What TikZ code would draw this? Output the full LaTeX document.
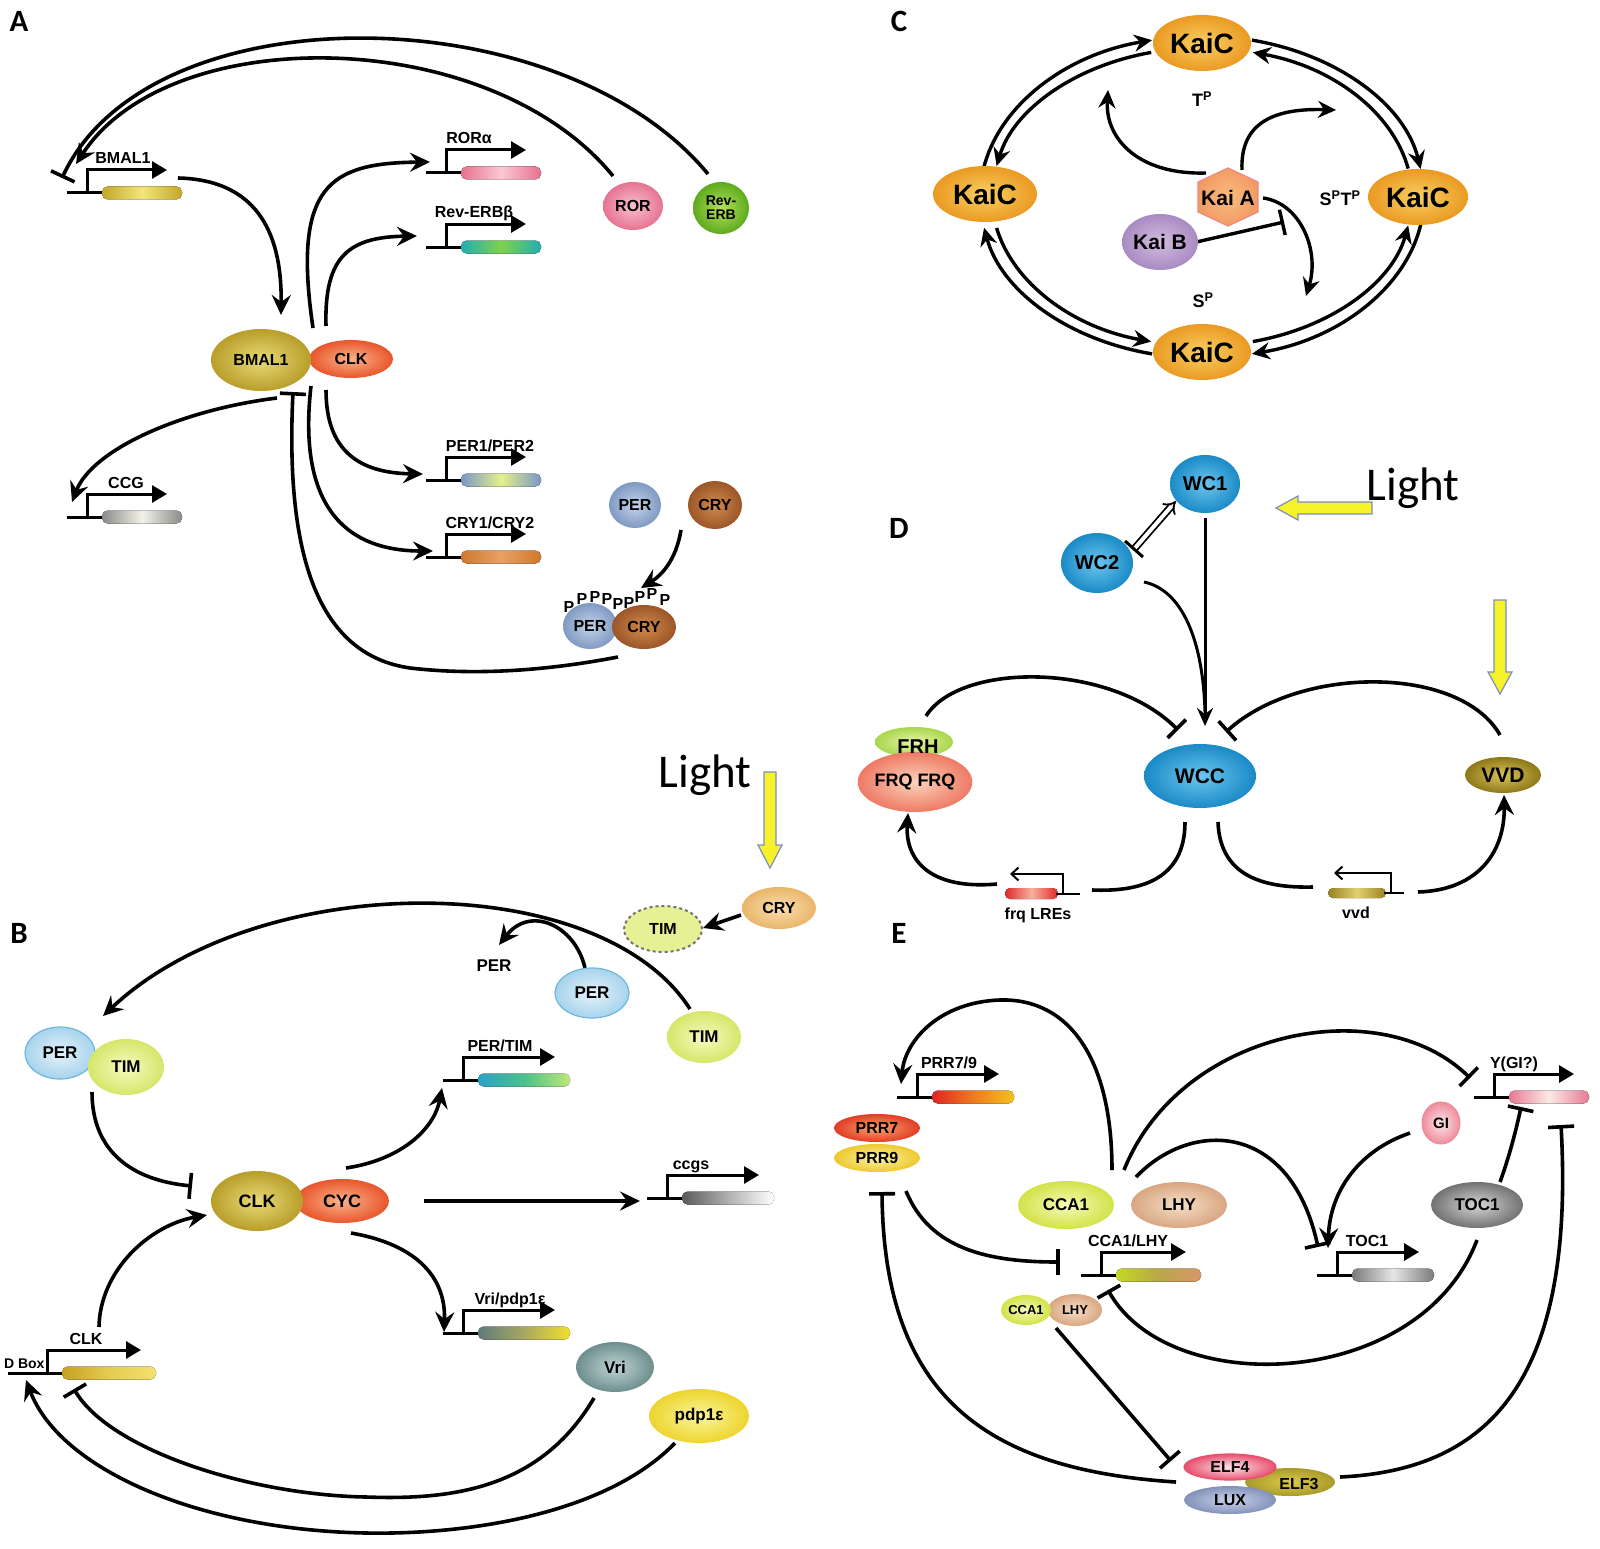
\documentclass[tikz,border=0pt]{standalone}
\usepackage{fontspec}
\setmainfont{Liberation Sans}
\newfontfamily\lightfont{Carlito}
\usetikzlibrary{arrows.meta,shapes.geometric}
\pgfdeclarelayer{back}
\pgfdeclarelayer{bg}
\pgfsetlayers{back,bg,main}
\newcommand\fz[1]{\fontsize{#1}{#1}\selectfont\bfseries}
% node colours
\definecolor{olI}{HTML}{E8DA78}\definecolor{olO}{HTML}{B89E2A}
\definecolor{rdI}{HTML}{F9B48A}\definecolor{rdO}{HTML}{E9552C}
\definecolor{pkI}{HTML}{F8C0CE}\definecolor{pkO}{HTML}{E67392}
\definecolor{grI}{HTML}{B4E25A}\definecolor{grO}{HTML}{5DAA1E}
\definecolor{buI}{HTML}{C4D4EA}\definecolor{buO}{HTML}{7F99C2}
\definecolor{brI}{HTML}{D08A4C}\definecolor{brO}{HTML}{9C5628}
\definecolor{kcI}{HTML}{F9CF63}\definecolor{kcO}{HTML}{EA9A22}
\definecolor{kaI}{HTML}{F8BE80}\definecolor{kaO}{HTML}{F29A64}\definecolor{kaD}{HTML}{EE8A80}
\definecolor{kbI}{HTML}{D2BCDE}\definecolor{kbO}{HTML}{A98BC2}
\definecolor{wcI}{HTML}{6CC6EE}\definecolor{wcO}{HTML}{1A8AC6}
\definecolor{fqI}{HTML}{FBD3BC}\definecolor{fqO}{HTML}{EE7A64}
\definecolor{fhI}{HTML}{EAF5A8}\definecolor{fhO}{HTML}{A9D64C}
\definecolor{vvI}{HTML}{D8C45A}\definecolor{vvO}{HTML}{8E7818}
\definecolor{lbI}{HTML}{E6F3FA}\definecolor{lbO}{HTML}{A7D3EC}\definecolor{lbD}{HTML}{6DB8DC}
\definecolor{ygI}{HTML}{F6FAC0}\definecolor{ygO}{HTML}{D6E66A}
\definecolor{orI}{HTML}{FADEAE}\definecolor{orO}{HTML}{E9B66A}
\definecolor{vrI}{HTML}{C0D4D4}\definecolor{vrO}{HTML}{6E8E8E}
\definecolor{ydI}{HTML}{FAF59C}\definecolor{ydO}{HTML}{EDD52E}
\definecolor{p7I}{HTML}{F9A66A}\definecolor{p7O}{HTML}{E03C26}
\definecolor{p9I}{HTML}{FAF2A4}\definecolor{p9O}{HTML}{EEC82E}
\definecolor{caI}{HTML}{F4FBB8}\definecolor{caO}{HTML}{D2E248}
\definecolor{lhI}{HTML}{F5DFC6}\definecolor{lhO}{HTML}{D9A682}
\definecolor{toI}{HTML}{D6D6D6}\definecolor{toO}{HTML}{727272}
\definecolor{giI}{HTML}{FDE6EA}\definecolor{giO}{HTML}{EE8C9C}
\definecolor{e4I}{HTML}{FCE6EC}\definecolor{e4O}{HTML}{E8506E}
\definecolor{e3I}{HTML}{DCCB4E}\definecolor{e3O}{HTML}{A89A2A}
\definecolor{luI}{HTML}{CBD3EA}\definecolor{luO}{HTML}{8392BA}
\definecolor{lyel}{HTML}{F6F22A}\definecolor{lblu}{HTML}{7E8EC2}
% gene bar colours
\definecolor{gOlA}{HTML}{C4A628}\definecolor{gOlB}{HTML}{F2E57A}
\definecolor{gPkA}{HTML}{E8708E}\definecolor{gPkB}{HTML}{FAC8D4}
\definecolor{gTeA}{HTML}{22AEB4}\definecolor{gGrB}{HTML}{7ED24A}
\definecolor{gGyA}{HTML}{8A8A8A}\definecolor{gGyB}{HTML}{F2F2E8}
\definecolor{gBuA}{HTML}{7A96C8}\definecolor{gBuB}{HTML}{E6F08A}
\definecolor{gBrA}{HTML}{D0782E}\definecolor{gBrB}{HTML}{E8A064}
\definecolor{gPtA}{HTML}{2AA2C8}\definecolor{gPtB}{HTML}{BEE878}\definecolor{gPtC}{HTML}{4CC08A}
\definecolor{gCcA}{HTML}{5A5A5A}\definecolor{gCcC}{HTML}{B0B0B0}
\definecolor{gVrA}{HTML}{5E7A7A}\definecolor{gVrB}{HTML}{F2E02A}\definecolor{gVrC}{HTML}{A8A860}
\definecolor{gClA}{HTML}{C8A020}\definecolor{gClB}{HTML}{F4E070}\definecolor{gClC}{HTML}{E4CC50}
\definecolor{gPrA}{HTML}{E02424}\definecolor{gPrB}{HTML}{F2C21E}\definecolor{gPrC}{HTML}{F07A1E}
\definecolor{gCaA}{HTML}{C4D824}\definecolor{gCaB}{HTML}{D8956A}\definecolor{gCaC}{HTML}{B8A848}
\definecolor{gToA}{HTML}{7A7A7A}\definecolor{gToC}{HTML}{E6E6E6}
\definecolor{gYA}{HTML}{E67A92}\definecolor{gYC}{HTML}{FCEAE4}
\definecolor{gFqA}{HTML}{E02828}\definecolor{gFqC}{HTML}{F8B0A0}
\definecolor{gVvA}{HTML}{9A8220}\definecolor{gVvC}{HTML}{E0D070}

\tikzset{
  ln/.style={line width=3.6pt},
  ar/.style={ln,-{Stealth[length=20pt,width=19pt,inset=7pt]}},
  ih/.style={ln,-{Bar[width=26pt]}},
  ka/.style={line width=3.4pt,-{Stealth[length=18pt,width=17pt,inset=6pt]}},
  gl/.style={line width=3pt},
  ball/.style n args={4}{ellipse,minimum width=#1pt,minimum height=#2pt,inner sep=0pt,inner color=#3,outer color=#4},
  lbl/.style={font=\fz{16}},
  panel/.style={font=\lightfont\bfseries\fontsize{31}{31}\selectfont},
  lightarrow/.style={fill=lyel,draw=lblu,line width=1.2pt}
}
% promoter + gene: px, py, length, label, label dx, name, left, right, middle colour
\newcommand\gene[9]{%
  \coordinate (#6) at (#1,#2);
  \draw[gl] (#1-20,#2) -- (#1+16,#2);
  \fill[left color=#7,right color=#8,middle color=#9,rounded corners=5.5pt] (#1+15,#2-6.5) rectangle (#1+15+#3,#2+6.5);
  \draw[gl,-{Triangle[length=15pt,width=17pt]}] (#1,#2+1.5) -- (#1,#2-23) -- (#1+#3,#2-23);
  \node[lbl,anchor=base] (#6l) at (#1+#5,#2-29) {#4};
}

\begin{document}
\begin{tikzpicture}[x=1pt,y=-1pt]
\useasboundingbox (0,0) rectangle (1600,1549);
\begin{pgfonlayer}{back}
\fill[white] (0,0) rectangle (1600,1549);
\end{pgfonlayer}

% ================= Panel letters
\node[panel] (lA) at (19,21) {A};
\node[panel] (lB) at (19,933) {B};
\node[panel] (lC) at (899,21) {C};
\node[panel] (lD) at (899,528) {D};
\node[panel] (lE) at (899,933) {E};

% ================= Panel A
\node[ball={84}{38}{rdI}{rdO},font=\fz{16}] (clkA) at (351,359) {CLK};
\node[ball={100}{62}{olI}{olO},font=\fz{16}] (bmal) at (261,360) {BMAL1};
\node[ball={60}{48}{pkI}{pkO},font=\fz{16}] (ror) at (633,206) {ROR};
\node[ball={56}{52}{grI}{grO},font=\fz{14},align=center] (reverb) at (721,208) {Rev-\\ERB};
\node[ball={52}{46}{buI}{buO},font=\fz{16}] (perA) at (635,505) {PER};
\node[ball={54}{48}{brI}{brO},font=\fz{16}] (cryA) at (715,505) {CRY};
\node[ball={54}{46}{buI}{buO},font=\fz{16}] (perC) at (590,626) {PER};
\node[ball={64}{44}{brI}{brO},font=\fz{16}] (cryC) at (644,627) {CRY};
\foreach \x/\y [count=\i] in {569/607,582/599,595/597,607/599,618/604,629/603,640/597,652/594,665/600}
  \node[font=\fz{16}] (pp\i) at (\x,\y) {P};

\gene{87}{193}{80}{BMAL1}{36}{gBMAL}{gOlA}{gOlA}{gOlB}
\gene{446}{173}{80}{RORα}{23}{gROR}{gPkA}{gPkA}{gPkB}
\gene{446}{247}{80}{Rev-ERBβ}{28}{gREV}{gTeA}{gTeA}{gGrB}
\gene{87}{517}{80}{CCG}{39}{gCCG}{gGyA}{gGyA}{gGyB}
\gene{446}{480}{80}{PER1/PER2}{44}{gPER}{gBuA}{gBuA}{gBuB}
\gene{446}{557}{80}{CRY1/CRY2}{44}{gCRY}{gBrA}{gBrA}{gBrB}

\begin{pgfonlayer}{bg}
\draw[ih] (708,174) .. controls (560,-5) and (150,-10) .. (62,178);
\draw[ar] (613,176) .. controls (490,25) and (170,20) .. (76,164);
\draw[ar] (178,178) .. controls (262,180) and (282,240) .. (281,315);
\draw[ar] (313,328) .. controls (292,185) and (330,163) .. (430,162);
\draw[ar] (326,326) .. controls (324,255) and (350,237) .. (417,236);
\draw[ar] (277,398) .. controls (180,410) and (92,450) .. (72,502);
\draw[ar] (326,390) .. controls (326,450) and (358,473) .. (423,474);
\draw[ar] (311,386) .. controls (298,500) and (340,551) .. (433,551);
\draw[ih] (618,657) .. controls (540,672) and (470,675) .. (410,668) .. controls (320,655) and (285,560) .. (293,392);
\draw[ar] (681,530) .. controls (676,560) and (662,575) .. (641,588);
\end{pgfonlayer}

% ================= Panel C
\coordinate (kc) at (1202,197);
\node[ball={98}{56}{kcI}{kcO},font=\fz{28}] (kt) at (1202,43) {KaiC};
\node[ball={104}{56}{kcI}{kcO},font=\fz{28}] (kl) at (985,194) {KaiC};
\node[ball={100}{56}{kcI}{kcO},font=\fz{28}] (kr) at (1418,197) {KaiC};
\node[ball={98}{56}{kcI}{kcO},font=\fz{28}] (kb) at (1202,352) {KaiC};
\path[draw=kaD,line width=1.2pt,inner color=kaI,outer color=kaO] (1228,168) -- (1258,182) -- (1258,212) -- (1228,226) -- (1198,212) -- (1198,182) -- cycle;
\node[font=\fz{21}] (kaia) at (1228,198) {Kai A};
\node[ball={62}{56}{kbI}{kbO},font=\fz{21}] (kaib) at (1160,242) {Kai B};
\node[font=\fz{18}] (tp) at (1202,99) {T\textsuperscript{P}};
\node[font=\fz{18}] (stp) at (1340,198) {S\textsuperscript{P}T\textsuperscript{P}};
\node[font=\fz{18}] (sp) at (1203,300) {S\textsuperscript{P}};

\begin{pgfonlayer}{bg}
\draw[ka] (kc) ++(191:222 and 161) arc[start angle=191,end angle=257,x radius=222,y radius=161];
\draw[ka] (kc) ++(283:222 and 161) arc[start angle=283,end angle=350,x radius=222,y radius=161];
\draw[ka] (kc) ++(10:222 and 161) arc[start angle=10,end angle=77,x radius=222,y radius=161];
\draw[ka] (kc) ++(103:222 and 161) arc[start angle=103,end angle=169,x radius=222,y radius=161];
\draw[ka] (kc) ++(256:210 and 149) arc[start angle=256,end angle=192,x radius=210,y radius=149];
\draw[ka] (kc) ++(349:210 and 149) arc[start angle=349,end angle=284,x radius=210,y radius=149];
\draw[ka] (kc) ++(76:210 and 149) arc[start angle=76,end angle=11,x radius=210,y radius=149];
\draw[ka] (kc) ++(168:210 and 149) arc[start angle=168,end angle=104,x radius=210,y radius=149];
\draw[ka] (1206,173) .. controls (1140,175) and (1105,140) .. (1108,90);
\draw[ka] (1242,170) .. controls (1240,122) and (1275,108) .. (1336,110);
\draw[ka] (1263,198) .. controls (1300,203) and (1320,250) .. (1306,296);
\draw[line width=3.4pt,-{Bar[width=26pt]}] (1192,243) -- (1284,222);
\end{pgfonlayer}

% ================= Panel D
\node[ball={70}{58}{wcI}{wcO},font=\fz{20}] (wc1) at (1205,484) {WC1};
\node[ball={72}{60}{wcI}{wcO},font=\fz{20}] (wc2) at (1097,563) {WC2};
\node[ball={112}{64}{wcI}{wcO},font=\fz{21}] (wcc) at (1200,776) {WCC};
\node[ball={78}{30}{fhI}{fhO}] (frh) at (914,742) {};
\node[ball={86}{60}{fqI}{fqO},font=\fz{18}] (frq) at (915,782) {FRQ FRQ};
\node[font=\fz{20}] (frht) at (918,747) {FRH};
\node[ball={76}{36}{vvI}{vvO},font=\fz{21}] (vvd) at (1503,775) {VVD};
\node[font=\lightfont\fontsize{47}{47}\selectfont] (lightD) at (1413,488) {Light};
\filldraw[lightarrow] (1372,502) -- (1298,502) -- (1298,496) -- (1276,508) -- (1298,520) -- (1298,514) -- (1372,514) -- cycle;
\filldraw[lightarrow] (1494,600) -- (1506,600) -- (1506,672) -- (1512,672) -- (1500,694) -- (1488,672) -- (1494,672) -- cycle;
% reverse promoters
\fill[left color=gFqA,right color=gFqA,middle color=gFqC,rounded corners=5pt] (1005,888) rectangle (1058,899);
\draw[line width=2.2pt] (1056,894) -- (1080,894);
\draw[line width=2pt,-{Straight Barb[length=7pt,width=13pt]}] (1063,895) -- (1063,874) -- (1010,874);
\node[lbl] (frqg) at (1038,915) {frq LREs};
\fill[left color=gVvA,right color=gVvA,middle color=gVvC,rounded corners=5pt] (1328,888) rectangle (1386,898);
\draw[line width=2.2pt] (1384,893) -- (1404,893);
\draw[line width=2pt,-{Straight Barb[length=7pt,width=13pt]}] (1391,894) -- (1391,873) -- (1334,873);
\node[lbl] (vvdg) at (1356,913) {vvd};

\begin{pgfonlayer}{bg}
\draw[line width=3pt,-{Stealth[length=18pt,width=16pt,inset=6pt]}] (1205,518) -- (1205,726);
\draw[line width=3pt] (1144,582) .. controls (1182,590) and (1203,640) .. (1205,712);
\draw[line width=1.8pt,double distance=4pt,-{Implies}] (1135,548) -- (1176,501);
\draw[line width=3pt] (1125,541) -- (1143,557);
\draw[ih] (926,716) .. controls (960,662) and (1110,662) .. (1178,730);
\draw[ih] (1500,735) .. controls (1460,665) and (1300,665) .. (1226,732);
\draw[ln] (1185,822) .. controls (1185,880) and (1140,892) .. (1092,890);
\draw[ln] (1218,822) .. controls (1220,880) and (1270,888) .. (1313,887);
\draw[ar] (997,884) .. controls (930,890) and (905,860) .. (908,813);
\draw[ar] (1418,892) .. controls (1480,890) and (1505,850) .. (1504,795);
\end{pgfonlayer}

% ================= Panel B
\node[font=\lightfont\fontsize{47}{47}\selectfont] (lightB) at (705,775) {Light};
\filldraw[lightarrow] (764,772) -- (776,772) -- (776,845) -- (782,845) -- (770,868) -- (758,845) -- (764,845) -- cycle;
\node[ball={70}{52}{lbI}{lbO},draw=lbD,line width=1.2pt,font=\fz{17}] (perT) at (60,1053) {PER};
\node[ball={76}{56}{ygI}{ygO},font=\fz{17}] (timT) at (126,1067) {TIM};
\node[ball={74}{50}{lbI}{lbO},draw=lbD,line width=1.2pt,font=\fz{17}] (perF) at (592,993) {PER};
\node[ball={74}{52}{ygI}{ygO},font=\fz{17}] (timF) at (704,1037) {TIM};
\node[ellipse,minimum width=78pt,minimum height=46pt,inner sep=0pt,fill=ygI!50!ygO,draw=black!55,dashed,line width=2pt,font=\fz{16}] (timD) at (663,929) {TIM};
\node[ball={74}{42}{orI}{orO},font=\fz{16}] (cryB) at (779,908) {CRY};
\node[font=\fz{17}] (perL) at (494,966) {PER};
\node[ball={94}{44}{rdI}{rdO},font=\fz{18}] (cyc) at (342,1201) {CYC};
\node[ball={92}{60}{olI}{olO},font=\fz{18}] (clkB) at (257,1201) {CLK};
\node[ball={78}{50}{vrI}{vrO},font=\fz{17}] (vri) at (615,1367) {Vri};
\node[ball={100}{54}{ydI}{ydO},font=\fz{17}] (pdp) at (699,1416) {pdp1ε};

\gene{463}{1080}{92}{PER/TIM}{37}{gPT}{gPtA}{gPtB}{gPtC}
\gene{667}{1198}{92}{ccgs}{24}{gCS}{gCcA}{white}{gCcC}
\gene{463}{1333}{92}{Vri/pdp1ε}{47}{gVP}{gVrA}{gVrB}{gVrC}
\gene{47}{1373}{94}{CLK}{39}{gCK}{gClA}{gClB}{gClC}
\draw[gl] (8,1373) -- (30,1373);
\node[font=\fz{14},anchor=east] (dbox) at (48,1364) {D Box};

\begin{pgfonlayer}{bg}
\draw[ar] (690,1009) .. controls (600,868) and (260,868) .. (103,1016);
\draw[ar] (585,968) .. controls (575,925) and (530,905) .. (499,945);
\draw[ar] (741,915) -- (703,928);
\draw[ih] (92,1092) .. controls (92,1150) and (130,1180) .. (192,1186);
\draw[ar] (346,1168) .. controls (400,1160) and (434,1130) .. (442,1088);
\draw[ar] (424,1201) -- (640,1201);
\draw[ar] (351,1233) .. controls (420,1245) and (446,1280) .. (444,1332);
\draw[ar] (99,1327) .. controls (100,1270) and (150,1225) .. (207,1215);
\draw[ih] (594,1398) .. controls (540,1490) and (450,1500) .. (366,1497) .. controls (250,1495) and (110,1450) .. (74,1389);
\draw[ar] (675,1443) .. controls (610,1510) and (480,1535) .. (366,1533) .. controls (200,1530) and (60,1470) .. (26,1380);
\end{pgfonlayer}

% ================= Panel E
\node[ball={86}{28}{p7I}{p7O},font=\fz{16}] (prr7) at (877,1128) {PRR7};
\node[ball={86}{28}{p9I}{p9O},font=\fz{16}] (prr9) at (877,1158) {PRR9};
\node[ball={96}{48}{caI}{caO},font=\fz{17}] (cca1) at (1066,1205) {CCA1};
\node[ball={96}{46}{lhI}{lhO},font=\fz{17}] (lhy) at (1179,1205) {LHY};
\node[ball={54}{32}{lhI}{lhO},font=\fz{13}] (slhy) at (1075,1310) {LHY};
\node[ball={50}{30}{caI}{caO},font=\fz{13}] (scca1) at (1026,1310) {CCA1};
\node[ball={38}{42}{giI}{giO},draw=giO,line width=1pt,font=\fz{15}] (gi) at (1441,1123) {GI};
\node[ball={92}{46}{toI}{toO},font=\fz{17}] (toc1) at (1477,1205) {TOC1};
\node[ball={90}{28}{e3I}{e3O}] (elf3) at (1290,1482) {};
\node[ball={92}{26}{e4I}{e4O},draw=e4O,line width=1.2pt,font=\fz{16}] (elf4) at (1230,1467) {ELF4};
\node[ball={92}{28}{luI}{luO},font=\fz{16}] (lux) at (1230,1500) {LUX};
\node[font=\fz{16}] (elf3t) at (1299,1484) {ELF3};

\gene{917}{1097}{82}{PRR7/9}{32}{gPR}{gPrA}{gPrB}{gPrC}
\gene{1101}{1275}{85}{CCA1/LHY}{27}{gCL}{gCaA}{gCaB}{gCaC}
\gene{1337}{1275}{82}{TOC1}{30}{gTC}{gToA}{gToA}{gToC}
\gene{1494}{1097}{80}{Y(GI?)}{20}{gYG}{gYA}{gYA}{gYC}

\begin{pgfonlayer}{bg}
\draw[ar] (1112,1170) .. controls (1112,1060) and (1070,998) .. (1000,1000) .. controls (940,1002) and (905,1040) .. (901,1084);
\draw[ih] (1124,1170) .. controls (1180,1030) and (1380,990) .. (1470,1078);
\draw[ih] (1136,1177) .. controls (1190,1120) and (1290,1120) .. (1318,1247);
\draw[ar] (1410,1133) .. controls (1360,1150) and (1330,1190) .. (1328,1248);
\draw[ih] (1500,1182) .. controls (1508,1160) and (1515,1135) .. (1521,1107);
\draw[ih] (1340,1477) .. controls (1490,1470) and (1575,1380) .. (1561,1125);
\draw[ih] (1176,1482) .. controls (990,1470) and (884,1400) .. (882,1192);
\draw[ih] (906,1191) .. controls (930,1250) and (990,1262) .. (1060,1262);
\draw[ih] (1477,1240) .. controls (1420,1390) and (1170,1400) .. (1108,1290);
\draw[ih] (1056,1328) -- (1171,1461);
\end{pgfonlayer}
\end{tikzpicture}
\end{document}
